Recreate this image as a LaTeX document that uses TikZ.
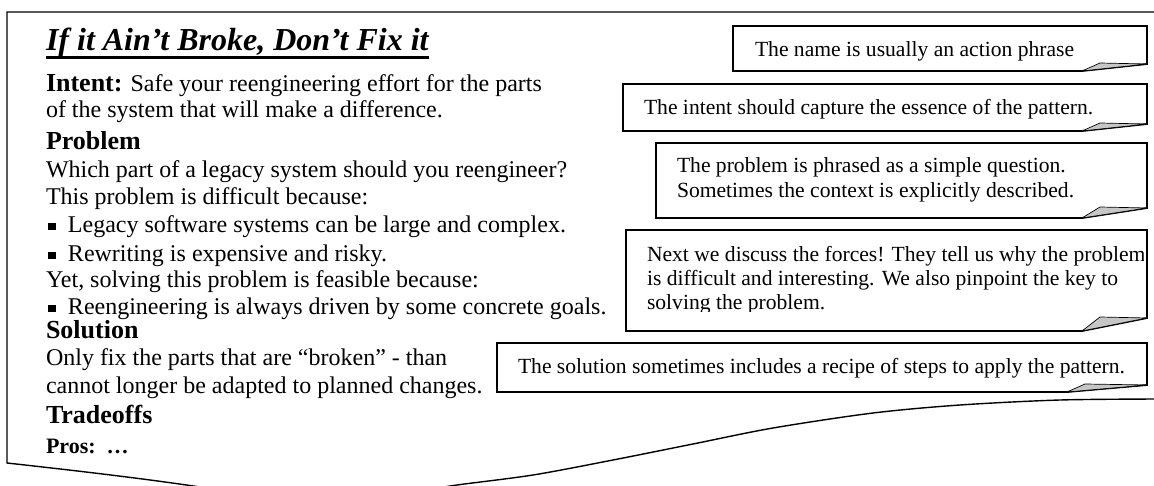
\documentclass[tikz,border=0pt]{standalone}
\usepackage{fontspec}
\setmainfont{Liberation Serif}
\newcommand{\sqbullet}{\makebox[20pt][l]{\raisebox{2.5pt}{\rule{7.5pt}{7.5pt}}}}
\newcommand{\foldednote}[3]{% name, fold width, fold height
  \draw[boxline] (#1.north west) -- (#1.north east) -- ([yshift=#3pt]#1.south east)
    -- ([xshift=-#2pt]#1.south east) -- (#1.south west) -- cycle;
  \filldraw[lip] ([xshift=-#2pt]#1.south east) -- ([xshift=-#2pt+18pt,yshift=#3pt+1pt]#1.south east)
    -- ([yshift=#3pt]#1.south east) -- cycle;}
\begin{document}
\begin{tikzpicture}[x=1pt,y=-1pt,
  txt/.style={anchor=base west,inner sep=0pt,outer sep=0pt,font=\fontsize{24}{27.6}\selectfont},
  head/.style={txt,font=\fontsize{26}{30}\selectfont\bfseries},
  titletxt/.style={txt,font=\fontsize{32}{36}\selectfont\bfseries\itshape},
  pros/.style={txt,font=\fontsize{22}{25}\selectfont\bfseries},
  note/.style={txt,font=\fontsize{21.6}{24.5}\selectfont},
  area/.style={inner sep=0pt,outer sep=0pt,anchor=north west},
  boxline/.style={line width=1.8pt,line join=miter},
  lip/.style={fill=gray!45,draw=black,line width=0.7pt,line join=round},
  frameline/.style={line width=1.4pt,line join=miter}]
\useasboundingbox (0,0) rectangle (1154,486);
\clip (0,0) rectangle (1154,486);

% page frame with wavy bottom
\coordinate (ftr) at (1160,12);
\coordinate (ftl) at (7,12);
\coordinate (fbl) at (7,463);
\draw[frameline] (ftr) -- (ftl) -- (fbl) .. controls (70,470) and (140,478) .. (200,487) -- (240,492);
\draw[frameline] plot[smooth,tension=0.5] coordinates {(420,491) (457,485) (533,475) (613,460) (693,444) (773,428) (873,413) (960,405) (1060,400) (1160,399)};

% left column text
\node[titletxt] (title) at (46,51) {If it Ain’t Broke, Don’t Fix it};
\draw[line width=2.6pt] ([yshift=-6.5pt]title.base west) -- ([yshift=-6.5pt]title.base east);
\node[txt] (intent) at (46,92) {\fontsize{26}{30}\selectfont\bfseries Intent:\fontsize{24}{27.6}\selectfont\mdseries{} Safe your reengineering effort for the parts};
\node[txt] (intent2) at (46,118) {of the system that will make a difference.};
\node[head] (problem) at (46,150) {Problem};
\node[txt] (p1) at (46,178) {Which part of a legacy system should you reengineer?};
\node[txt] (p2) at (46,205) {This problem is difficult because:};
\node[txt] (p3) at (48,233) {\sqbullet Legacy software systems can be large and complex.};
\node[txt] (p4) at (48,262) {\sqbullet Rewriting is expensive and risky.};
\node[txt] (p5) at (46,288) {Yet, solving this problem is feasible because:};
\node[txt] (p6) at (48,315) {\sqbullet Reengineering is always driven by some concrete goals.};
\node[head] (solution) at (46,338) {Solution};
\node[txt] (s1) at (46,365) {Only fix the parts that are “broken” - than};
\node[txt] (s2) at (46,393) {cannot longer be adapted to planned changes.};
\node[head] (tradeoffs) at (46,423) {Tradeoffs};
\node[pros] (prosline) at (46,453) {Pros:\ \ …};

% note boxes
\node[area,minimum width=414pt,minimum height=45pt] (b1) at (733,26) {};
\node[area,minimum width=524pt,minimum height=47pt] (b2) at (623,84) {};
\node[area,minimum width=491pt,minimum height=75pt] (b3) at (656,143) {};
\node[area,minimum width=521pt,minimum height=101pt] (b4) at (626,230) {};
\node[area,minimum width=650pt,minimum height=49pt] (b5) at (497,343) {};

\node[note] (n1) at (755,57) {The name is usually an action phrase};
\node[note] (n2) at (644,115) {The intent should capture the essence of the pattern.};
\node[note] (n3a) at (677,173) {The problem is phrased as a simple question.};
\node[note] (n3b) at (677,198) {Sometimes the context is explicitly described.};
\begin{scope}
  \clip (627,231) rectangle (1143,312);
  \node[note] (n4a) at (647,261.5) {Next we discuss the forces! They tell us why the problem};
  \node[note] (n4b) at (647,285.5) {is difficult and interesting. We also pinpoint the key to};
  \node[note] (n4c) at (647,309.5) {solving the problem.};
\end{scope}
\node[note] (n5) at (518,373) {The solution sometimes includes a recipe of steps to apply the pattern.};

\foldednote{b1}{65}{7}
\foldednote{b2}{65}{7}
\foldednote{b3}{65}{10}
\foldednote{b4}{65}{13}
\foldednote{b5}{80}{7}
\end{tikzpicture}
\end{document}
